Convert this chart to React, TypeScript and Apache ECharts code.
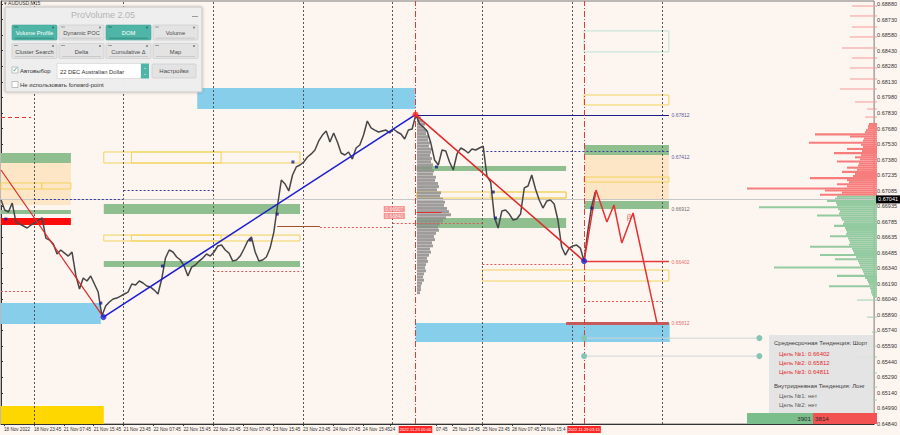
import React, { useEffect, useRef } from "react";
import * as echarts from "echarts";

// ---------- axis ticks ----------
const priceTicks = [0.6888, 0.6873, 0.6858, 0.6843, 0.6828, 0.6813, 0.6798, 0.6783, 0.6768, 0.6753, 0.6738, 0.67235, 0.67085, 0.66935, 0.66785, 0.66635, 0.66485, 0.6634, 0.6619, 0.6604, 0.6589, 0.6574, 0.6559, 0.6544, 0.6529, 0.6514, 0.6499, 0.6484];
const timeTickHours = [0.8, 8.8, 16.8, 24.8, 32.8, 40.8, 48.8, 56.8, 64.8, 72.8, 80.8, 88.8, 96.8, 104.1, 116.4, 120.8, 128.8, 136.7, 144.4];
const timeTickLabels = ["18 Nov 2022", "18 Nov 23:45", "21 Nov 07:45", "21 Nov 15:45", "21 Nov 23:45", "22 Nov 07:45", "22 Nov 15:45", "22 Nov 23:45", "23 Nov 07:45", "23 Nov 15:45", "23 Nov 23:45", "24 Nov 07:45", "24 Nov 15:45", "24", "07:45", "25 Nov 15:45", "25 Nov 23:45", "28 Nov 07:45", "28 Nov 15:4"];
const daySeparatorHours = [8.8, 32.8, 56.8, 80.8, 104.8, 128.8, 152.8, 176.8];
const cursorHours = [110.9, 156];
const cursorLabels = ["2022.11.25 05:00", "2022.11.29 03:15"];
const currentPrice = 0.67041;
const priceMin = 0.6484;
const priceMax = 0.68908;
const hourMax = 233.6;

// ---------- hourly closes (hour index from chart start) ----------
const priceHourly = [
  0.66994, 0.66898, 0.66879, 0.66965, 0.66782, 0.66763, 0.66744, 0.66725, 0.66754, 0.66773,
  0.66802, 0.66821, 0.66628, 0.66609, 0.66571, 0.66475, 0.66513, 0.66484, 0.66455, 0.66494,
  0.66273, 0.66138, 0.66244, 0.66215, 0.66263, 0.66186, 0.66109, 0.65878, 0.65974, 0.66013,
  0.66042, 0.66051, 0.6607, 0.6609, 0.66109, 0.66186, 0.66176, 0.66215, 0.66196, 0.66167,
  0.66157, 0.66128, 0.6609, 0.66234, 0.66436, 0.66513, 0.66494, 0.66446, 0.66417, 0.66359,
  0.66263, 0.66349, 0.66369, 0.66407, 0.66436, 0.66475, 0.66455, 0.66494, 0.66552, 0.66561,
  0.66513, 0.66484, 0.66407, 0.66417, 0.66455, 0.66523, 0.666, 0.66638, 0.66494, 0.66407,
  0.66417, 0.66446, 0.66532, 0.66686, 0.66946, 0.67186, 0.67148, 0.67081, 0.67235, 0.67312,
  0.67331, 0.6736, 0.67408, 0.67437, 0.67475, 0.67562, 0.67619, 0.67658, 0.67552, 0.67639,
  0.67552, 0.67446, 0.67427, 0.67456, 0.67388, 0.67494, 0.67523, 0.67619, 0.67754, 0.67687,
  0.67667, 0.67648, 0.67658, 0.67667, 0.67639, 0.67677, 0.67648, 0.67629, 0.67581, 0.67667,
  0.67677, 0.67815, 0.67725, 0.67696, 0.67658, 0.67542, 0.67379, 0.67331, 0.67475, 0.67465,
  0.6736, 0.67283, 0.67437, 0.67494, 0.67475, 0.67446, 0.67485, 0.67475, 0.67494, 0.67513,
  0.67225, 0.67167, 0.6683, 0.66725, 0.66888, 0.66898, 0.66859, 0.66802, 0.66811, 0.66859,
  0.6711, 0.67129, 0.67235, 0.671, 0.66994, 0.66917, 0.66984, 0.66994, 0.66956, 0.66802,
  0.66542, 0.66465, 0.66532, 0.66552, 0.66561, 0.66532, 0.66407, 0.66696, 0.66927, 0.67071,
];

// ---------- trend lines / forecast [hour, price] ----------
const trendDownLeft = [[0, 0.67283], [27.4, 0.65868]];
const trendUp = [[27.4, 0.65868], [110.9, 0.67815]];
const trendDownRight = [[110.9, 0.67815], [156, 0.66407]];
const forecastPath = [[156, 0.66407], [159.2, 0.6709], [162.1, 0.66782], [164, 0.66946], [166.1, 0.6658], [169.1, 0.66869], [175.5, 0.65812]];
const connectorA = [[156, 0.65666], [202.9, 0.65666]];
const connectorB = [[156, 0.65493], [202.9, 0.65493]];

// ---------- zones [hourFrom, hourTo, priceTop, priceBottom] ----------
const orangeZones = [[0, 18.7, 0.6735, 0.66946], [156, 178.7, 0.67427, 0.66994]];
const greenZones = [
  [0, 18.7, 0.67446, 0.6735], [0, 18.7, 0.66898, 0.66859],
  [27.5, 80, 0.66956, 0.66859], [27.5, 80, 0.66407, 0.66349],
  [111.2, 151.2, 0.67321, 0.67273], [111.2, 151.2, 0.66821, 0.66725],
  [156, 178.7, 0.67523, 0.67427], [156, 178.7, 0.66984, 0.66907],
];
const blueZones = [[52.5, 110.9, 0.68072, 0.67869], [0, 26.7, 0.66003, 0.65801], [110.9, 178.9, 0.65811, 0.65628]];
const redZones = [[0, 18.7, 0.66821, 0.66754]];
const yellowFillZones = [[0, 27.5, 0.65012, 0.6484]];
const yellowBoxes = [
  [0, 10.9, 0.67158, 0.671], [10.9, 18.7, 0.67158, 0.671],
  [27.5, 80, 0.67456, 0.6735], [34.9, 58.9, 0.67456, 0.6735],
  [27.5, 80, 0.66657, 0.666], [34.9, 58.9, 0.66657, 0.666],
  [111.2, 151.2, 0.67071, 0.67013], [130.9, 151.2, 0.67071, 0.67013],
  [156, 178.7, 0.67215, 0.67167], [156, 178.7, 0.68004, 0.67908],
  [128.8, 178.7, 0.66321, 0.66215],
];
const tealBoxes = [[156, 178.7, 0.6862, 0.68418]];

// ---------- horizontal level segments [hourFrom, hourTo, price] ----------
const navySolidLevels = [[110.9, 178.7, 0.67812]];
const navyDottedLevels = [[8.8, 32.8, 0.67004], [32.8, 56.8, 0.6709], [128.8, 178.7, 0.67465]];
const redDottedLevels = [[0, 8.5, 0.66119], [56.8, 80.5, 0.66311], [85.3, 104.8, 0.66734], [104.8, 128.8, 0.66773], [128.8, 152.8, 0.66378], [156, 176.8, 0.66022]];
const redDashedLevels = [[0, 8, 0.67792]];
const brownLevels = [[73.9, 85.3, 0.66744]];
const targetLevels = [[156, 178.7, 0.66402]];
const targetThickLevels = [[151.2, 178.7, 0.65812]];
const pocLevels = [[111.2, 117.9, 0.66879]];

// ---------- level labels ----------
const levelLabelHour = 179.4;
const levelLabelPrices = [0.67812, 0.67412, 0.66912, 0.66402, 0.65812];
const tagHour = 102.4;
const tagPrices = [0.66907, 0.6684];

// ---------- markers ----------
const fractalDots = [[1.3, 0.66811], [26.7, 0.66003], [43.2, 0.66359], [66.7, 0.66609], [73.9, 0.66859], [78.1, 0.6736], [116.5, 0.67312], [131.7, 0.67071], [132.3, 0.66821], [158.1, 0.66917]];
const pivotLows = [[27.4, 0.65868], [156, 0.66407]];
const pivotHighs = [[110.9, 0.67815]];

// ---------- volume profiles ----------
const sessionProfileTop = 0.67783;
const sessionProfileStep = 0.0003;
const sessionProfileVolumes = [4, 6, 8, 7, 10, 9, 12, 11, 13, 12, 15, 14, 13, 15, 14, 16, 15, 17, 16, 19, 18, 21, 22, 20, 24, 23, 26, 28, 27, 30, 32, 34, 29, 26, 23, 21, 22, 19, 17, 18, 15, 16, 13, 14, 12, 10, 11, 9, 8, 9, 7, 6, 7, 5, 4, 4, 3];
const domStep = 0.0002;
const domAskTop = 0.67725;
const domAskVolumes = [8, 9, 9, 11, 12, 62, 27, 13, 14, 68, 16, 14, 30, 15, 43, 16, 22, 17, 40, 18, 19, 30, 20, 35, 22, 24, 67, 30, 28, 40, 30, 130, 52, 35, 57];
const domBidTop = 0.67025;
const domBidVolumes = [40, 42, 50, 41, 40, 118, 39, 37, 38, 60, 36, 35, 33, 34, 43, 32, 31, 30, 31, 47, 29, 28, 27, 28, 67, 25, 24, 23, 57, 21, 42, 19, 18, 17, 103, 15, 14, 13, 40, 12, 10, 9, 8, 48, 7, 6, 6, 5, 4];
const domAskThin = [[0.6886, 25], [0.68764, 27], [0.68658, 25], [0.68562, 27], [0.68456, 35], [0.6836, 25], [0.68264, 27], [0.68158, 27], [0.68062, 37], [0.67937, 22], [0.67869, 10], [0.67792, 12]];
const domBidThin = [[0.66032, 20], [0.65868, 10], [0.65724, 5], [0.65589, 8], [0.65484, 20], [0.6533, 5], [0.65195, 5], [0.6507, 6]];

// ---------- panels ----------
const buttonsRow1 = ["Volume Profile", "Dynamic POC", "DOM", "Volume"];
const buttonsRow1Active = [true, false, true, false];
const buttonsRow2 = ["Cluster Search", "Delta", "Cumulative Δ", "Map"];
const infoLines = ["Среднесрочная Тенденция: Шорт", "Цель №1: 0.66402", "Цель №2: 0.65812", "Цель №3: 0.64811", "Внутридневная Тенденция: Лонг", "Цель №1: нет", "Цель №2: нет"];
const deltaBuy = 3901;
const deltaSell = 3814;

const FONT = "Liberation Sans, Arial, sans-serif";

function zoneSeries(zones: number[][], itemStyle: any, z: number) {
  return {
    type: "line", data: [], z, silent: true,
    markArea: {
      silent: true, itemStyle,
      data: zones.map(([h1, h2, p1, p2]) => [{ xAxis: h1, yAxis: p1 }, { xAxis: h2, yAxis: p2 }]),
    },
  };
}

function segSeries(segs: number[][], lineStyle: any, z: number) {
  return {
    type: "line", data: [], z, silent: true,
    markLine: {
      silent: true, symbol: ["none", "none"], label: { show: false }, lineStyle,
      data: segs.map(([h1, h2, p]) => [{ coord: [h1, p] }, { coord: [h2, p] }]),
    },
  };
}

function profileRender(color: string, h: number) {
  return (params: any, api: any) => {
    const vol = api.value(0);
    const price = api.value(1);
    const a = api.coord([0, price]);
    const b = api.coord([vol, price]);
    return {
      type: "rect",
      shape: { x: Math.min(a[0], b[0]), y: a[1] - h / 2, width: Math.abs(a[0] - b[0]), height: h },
      style: { fill: color },
    };
  };
}

function button(x: number, y: number, w: number, h: number, label: string, active: boolean) {
  return [
    { type: "rect", z: 101, shape: { x, y, width: w, height: h, r: 1 }, style: { fill: active ? "#4fb5a7" : "#e3e3e3", stroke: active ? "#45a598" : "#c8c8c8", lineWidth: 0.6 } },
    { type: "circle", z: 102, shape: { cx: x + w - 4, cy: y + 2.5, r: 1.1 }, style: { fill: active ? "#2d7a70" : "#8a8a8a" } },
    { type: "rect", z: 102, shape: { x: x + 2, y: y + 1.5, width: 4, height: 1 }, style: { fill: active ? "#2d7a70" : "#9a9a9a" } },
    { type: "rect", z: 102, shape: { x: x + 3, y: y + h - 2.2, width: w - 6, height: 0.8 }, style: { fill: active ? "#2f7f74" : "#c0c0c0" } },
    { type: "text", z: 103, x: x + w / 2, y: y + h / 2 + 0.5, style: { text: label, fill: active ? "#ffffff" : "#4a4a4a", fontSize: 5.8, fontFamily: FONT, align: "center", verticalAlign: "middle" } },
  ];
}

function buildGraphic() {
  const els: any[] = [];
  els.push({ type: "text", z: 100, x: 4, y: 3, style: { text: "▾ AUDUSD,M15", fill: "#333", fontSize: 5, fontFamily: FONT, align: "left", verticalAlign: "middle" } });
  // ProVolume panel
  els.push({ type: "rect", z: 100, shape: { x: 5, y: 7, width: 197, height: 85, r: 1 }, style: { fill: "rgba(238,238,238,0.97)", stroke: "#c6c6c6", lineWidth: 1, shadowBlur: 3, shadowColor: "rgba(0,0,0,0.25)" } });
  els.push({ type: "text", z: 101, x: 103, y: 15, style: { text: "ProVolume 2.05", fill: "#b4b4b4", fontSize: 9, fontFamily: FONT, align: "center", verticalAlign: "middle" } });
  els.push({ type: "rect", z: 101, shape: { x: 192, y: 16, width: 6, height: 1 }, style: { fill: "#9a9a9a" } });
  const bx = [12, 59, 106, 153];
  buttonsRow1.forEach((t, i) => els.push(...button(bx[i], 25, 45, 15, t, buttonsRow1Active[i])));
  buttonsRow2.forEach((t, i) => els.push(...button(bx[i], 43.5, 45, 15, t, false)));
  // autoselect row
  els.push({ type: "rect", z: 101, shape: { x: 12, y: 67, width: 6, height: 6 }, style: { fill: "#ffffff", stroke: "#9a9a9a", lineWidth: 0.6 } });
  els.push({ type: "text", z: 102, x: 12.3, y: 69.5, style: { text: "✓", fill: "#3aa093", fontSize: 7, fontFamily: "DejaVu Sans", align: "left", verticalAlign: "middle" } });
  els.push({ type: "text", z: 102, x: 20, y: 71, style: { text: "Автовыбор", fill: "#333", fontSize: 6, fontFamily: FONT, align: "left", verticalAlign: "middle" } });
  els.push({ type: "rect", z: 101, shape: { x: 57, y: 63.5, width: 84, height: 15 }, style: { fill: "#ffffff", stroke: "#cfcfcf", lineWidth: 0.6 } });
  els.push({ type: "text", z: 102, x: 60, y: 71.5, style: { text: "22 DEC Australian Dollar", fill: "#333", fontSize: 5.8, fontFamily: FONT, align: "left", verticalAlign: "middle" } });
  els.push({ type: "rect", z: 101, shape: { x: 141, y: 63.5, width: 8, height: 15 }, style: { fill: "#4fb5a7" } });
  els.push({ type: "text", z: 102, x: 145, y: 71, style: { text: "⌃\n⌄", fill: "#ffffff", fontSize: 4, fontFamily: "DejaVu Sans", align: "center", verticalAlign: "middle", lineHeight: 4 } });
  els.push({ type: "rect", z: 101, shape: { x: 152, y: 64, width: 44, height: 14, r: 1 }, style: { fill: "#e3e3e3", stroke: "#c8c8c8", lineWidth: 0.6 } });
  els.push({ type: "text", z: 102, x: 174, y: 71, style: { text: "Настройки", fill: "#4a4a4a", fontSize: 6, fontFamily: FONT, align: "center", verticalAlign: "middle" } });
  els.push({ type: "rect", z: 101, shape: { x: 12, y: 81.5, width: 6, height: 6 }, style: { fill: "#ffffff", stroke: "#9a9a9a", lineWidth: 0.6 } });
  els.push({ type: "text", z: 102, x: 20, y: 85, style: { text: "Не использовать forward-point", fill: "#333", fontSize: 6, fontFamily: FONT, align: "left", verticalAlign: "middle" } });

  // info box
  els.push({ type: "rect", z: 100, shape: { x: 769, y: 335, width: 104, height: 80 }, style: { fill: "rgba(226,226,226,0.9)" } });
  const infoY = [343, 353.5, 362.5, 371.5, 385.5, 395.5, 404.5];
  infoLines.forEach((t, i) => {
    const header = i === 0 || i === 4;
    const red = i >= 1 && i <= 3;
    els.push({ type: "text", z: 101, x: header ? 774 : 779, y: infoY[i], style: { text: t, fill: red ? "#e02a2a" : header ? "#3c3c3c" : "#5a5a5a", fontSize: 6, fontFamily: FONT, align: "left", verticalAlign: "middle" } });
  });
  // delta bar
  els.push({ type: "rect", z: 100, shape: { x: 747, y: 413, width: 66, height: 11 }, style: { fill: "#79be8b" } });
  els.push({ type: "rect", z: 100, shape: { x: 813, y: 413, width: 64, height: 11 }, style: { fill: "#f25252" } });
  els.push({ type: "text", z: 101, x: 811, y: 418.5, style: { text: String(deltaBuy), fill: "#2a2a2a", fontSize: 6.2, fontFamily: FONT, align: "right", verticalAlign: "middle" } });
  els.push({ type: "text", z: 101, x: 815, y: 418.5, style: { text: String(deltaSell), fill: "#2a2a2a", fontSize: 6.2, fontFamily: FONT, align: "left", verticalAlign: "middle" } });
  return els;
}

export default function App() {
  const ref = useRef<HTMLDivElement>(null);
  useEffect(() => {
    if (!ref.current) return;
    const chart = echarts.init(ref.current, undefined, { renderer: "svg" });
    const hiddenY = (gi: number) => ({ type: "value", gridIndex: gi, min: priceMin, max: priceMax, show: false });
    const option: any = {
      animation: false,
      backgroundColor: "#fdf5f0",
      grid: [
        { left: 1, right: 23, top: 1, bottom: 11, show: true, borderColor: "#7a7a7a", borderWidth: 1, backgroundColor: "transparent" },
        { left: 417, width: 100, top: 1, bottom: 11 },
        { left: 740, right: 23, top: 1, bottom: 11 },
      ],
      xAxis: [
        {
          type: "value", gridIndex: 0, min: 0, max: hourMax, position: "bottom",
          splitLine: { show: false },
          axisLine: { show: true, lineStyle: { color: "#333", width: 1 } },
          axisTick: { show: true, customValues: timeTickHours, length: 2, lineStyle: { color: "#333" } },
          axisLabel: {
            customValues: timeTickHours, align: "left", fontSize: 4.6, color: "#333", margin: 3, fontFamily: FONT,
            showMinLabel: true, showMaxLabel: true, hideOverlap: false,
            formatter: (v: number) => { const i = timeTickHours.findIndex((t) => Math.abs(t - v) < 1e-6); return i >= 0 ? timeTickLabels[i] : ""; },
          },
        },
        { type: "value", gridIndex: 1, min: 0, max: 100, show: false },
        { type: "value", gridIndex: 2, min: 0, max: 137, inverse: true, show: false },
      ],
      yAxis: [
        {
          type: "value", gridIndex: 0, min: priceMin, max: priceMax, position: "right",
          splitLine: { show: false },
          axisLine: { show: true, lineStyle: { color: "#333", width: 1 } },
          axisTick: { show: true, customValues: priceTicks, length: 2, lineStyle: { color: "#333" } },
          axisLabel: { customValues: priceTicks, fontSize: 5.5, color: "#333", margin: 3, fontFamily: FONT, formatter: (v: number) => v.toFixed(5) },
        },
        hiddenY(1),
        hiddenY(2),
      ],
      series: [
        zoneSeries(orangeZones, { color: "#fde6c6" }, 1),
        zoneSeries(greenZones, { color: "#8fbf8f" }, 2),
        zoneSeries(blueZones, { color: "#87ceeb" }, 2),
        zoneSeries(redZones, { color: "#ff0a0a" }, 2),
        zoneSeries(yellowFillZones, { color: "#ffd700" }, 2),
        zoneSeries(yellowBoxes, { color: "rgba(0,0,0,0)", borderColor: "#f3d35c", borderWidth: 1 }, 3),
        zoneSeries(tealBoxes, { color: "rgba(0,0,0,0)", borderColor: "#b9e3d6", borderWidth: 1 }, 3),
        {
          type: "custom", name: "session profile", xAxisIndex: 1, yAxisIndex: 1, z: 3, silent: true,
          renderItem: profileRender("rgba(140,140,140,0.85)", 2.9),
          data: sessionProfileVolumes.map((v, i) => [v, sessionProfileTop - i * sessionProfileStep]),
        },
        {
          type: "custom", name: "dom asks", xAxisIndex: 2, yAxisIndex: 2, z: 3, silent: true,
          renderItem: profileRender("#f77d7d", 2.1),
          data: domAskVolumes.map((v, i) => [v, domAskTop - i * domStep]),
        },
        {
          type: "custom", name: "dom bids", xAxisIndex: 2, yAxisIndex: 2, z: 3, silent: true,
          renderItem: profileRender("#94caa0", 2.1),
          data: domBidVolumes.map((v, i) => [v, domBidTop - i * domStep]),
        },
        {
          type: "custom", name: "dom asks thin", xAxisIndex: 2, yAxisIndex: 2, z: 3, silent: true,
          renderItem: profileRender("#f59a9a", 1),
          data: domAskThin.map(([p, v]) => [v, p]),
        },
        {
          type: "custom", name: "dom bids thin", xAxisIndex: 2, yAxisIndex: 2, z: 3, silent: true,
          renderItem: profileRender("#9fd0aa", 1),
          data: domBidThin.map(([p, v]) => [v, p]),
        },
        {
          type: "line", data: [], z: 2, silent: true,
          markLine: {
            silent: true, symbol: ["none", "none"], label: { show: false },
            lineStyle: { type: [2, 2], color: "#555", width: 1 },
            data: daySeparatorHours.map((h) => ({ xAxis: h })),
          },
        },
        {
          type: "line", data: [], z: 2, silent: true,
          markLine: {
            silent: true, symbol: ["none", "none"],
            lineStyle: { type: "solid", color: "#c8c8c8", width: 1 },
            label: { show: true, position: "end", formatter: currentPrice.toFixed(5), backgroundColor: "#000", color: "#fff", fontSize: 5.5, fontFamily: FONT, padding: [1, 2], distance: 2 },
            data: [{ yAxis: currentPrice }],
          },
        },
        segSeries(navySolidLevels, { type: "solid", color: "#1c1c8a", width: 1.2 }, 4),
        segSeries(navyDottedLevels, { type: [2, 2], color: "#3a3aa0", width: 1 }, 4),
        segSeries(redDottedLevels, { type: [2, 2], color: "#e05858", width: 1 }, 4),
        segSeries(redDashedLevels, { type: [4, 3], color: "#e03030", width: 1 }, 4),
        segSeries(brownLevels, { type: "solid", color: "#a0522d", width: 1.2 }, 4),
        segSeries(targetLevels, { type: "solid", color: "#e83a3a", width: 1.4 }, 4),
        segSeries(targetThickLevels, { type: "solid", color: "#c65a5a", width: 3 }, 4),
        segSeries(pocLevels, { type: "solid", color: "#e03030", width: 1 }, 4),
        {
          type: "line", name: "AUDUSD", data: priceHourly.map((p, i) => [i, p]),
          showSymbol: false, symbol: "none", z: 5, silent: true,
          lineStyle: { color: "#474747", width: 1.5 },
        },
        { type: "line", data: trendDownLeft, showSymbol: false, symbol: "none", z: 6, silent: true, lineStyle: { color: "#e02a2a", width: 1.2 } },
        { type: "line", data: trendUp, showSymbol: false, symbol: "none", z: 6, silent: true, lineStyle: { color: "#1e1ed2", width: 1.6 } },
        { type: "line", data: trendDownRight, showSymbol: false, symbol: "none", z: 6, silent: true, lineStyle: { color: "#e02a2a", width: 1.6 } },
        { type: "line", data: forecastPath, showSymbol: false, symbol: "none", z: 6, silent: true, lineStyle: { color: "#e83030", width: 1.5 } },
        { type: "line", data: connectorA, symbol: "circle", symbolSize: 6, z: 6, silent: true, itemStyle: { color: "#86c4b6" }, lineStyle: { color: "#cfd6d4", width: 1 } },
        { type: "line", data: connectorB, symbol: "circle", symbolSize: 6, z: 6, silent: true, itemStyle: { color: "#86c4b6" }, lineStyle: { color: "#cfd6d4", width: 1 } },
        { type: "scatter", data: fractalDots, symbol: "rect", symbolSize: 3, z: 7, silent: true, itemStyle: { color: "#1a1a90" } },
        { type: "scatter", data: pivotLows, symbol: "circle", symbolSize: 6, z: 7, silent: true, itemStyle: { color: "#1e1ed2" } },
        { type: "scatter", data: pivotHighs, symbol: "circle", symbolSize: 6, z: 7, silent: true, itemStyle: { color: "#ff2020" } },
        {
          type: "scatter", z: 7, silent: true, symbolSize: 0,
          data: levelLabelPrices.map((p, i) => ({
            value: [levelLabelHour, p],
            label: { color: i < 2 ? "#2a2a7a" : i === 2 ? "#444" : "#e04848" },
          })),
          label: { show: true, position: "right", distance: 0, fontSize: 5, fontFamily: FONT, formatter: (p: any) => p.value[1].toFixed(5) },
        },
        {
          type: "scatter", z: 7, silent: true, symbolSize: 0,
          data: tagPrices.map((p) => [tagHour, p]),
          label: { show: true, position: "right", distance: 0, fontSize: 5, fontFamily: FONT, color: "#fff", backgroundColor: "#f07a7a", padding: [0.5, 1.5], formatter: (p: any) => p.value[1].toFixed(5) },
        },
        {
          type: "scatter", z: 7, silent: true, symbolSize: 0,
          data: [[168, 0.6684]],
          label: { show: true, position: "inside", fontSize: 8, color: "#e03030", fontFamily: FONT, formatter: "β" },
        },
        {
          type: "line", data: [], z: 8, silent: true,
          markLine: {
            silent: true, symbol: ["none", "none"],
            lineStyle: { type: [6, 2, 1, 2], color: "#e03a3a", width: 1 },
            label: { show: true, position: "start", formatter: (p: any) => p.name, backgroundColor: "#ff2626", color: "#fff", fontSize: 4.1, fontFamily: FONT, padding: [1.5, 1], distance: 2 },
            data: cursorHours.map((h, i) => ({ xAxis: h, name: cursorLabels[i] })),
          },
        },
      ],
      graphic: { elements: buildGraphic() },
    };
    chart.setOption(option);
    return () => chart.dispose();
  }, []);
  return <div ref={ref} style={{ position: "fixed", left: 0, top: 0, width: 900, height: 435 }} />;
}
